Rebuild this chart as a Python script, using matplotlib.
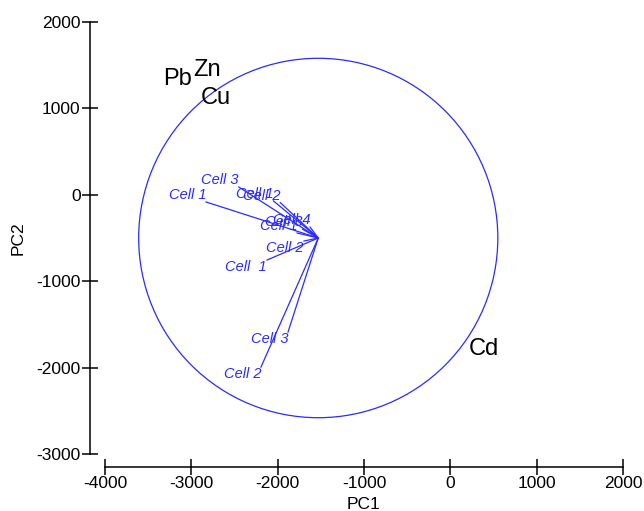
import matplotlib
matplotlib.use("Agg")
import matplotlib.pyplot as plt
from matplotlib.patches import Circle
import numpy as np

plt.rcParams['font.family'] = ['Liberation Sans', 'DejaVu Sans']
plt.rcParams['axes.unicode_minus'] = False

# Biplot origin and correlation circle
origin = (-1530, -500)
circle_radius = 2080

# Observation vectors (endpoints) and labels
cell_labels = ['Cell 1', 'Cell 3', 'Cell 1', 'Cell 2', 'Cell 4', 'Cell 3',
               'Cell 1', 'Cell 2', 'Cell  1', 'Cell 3', 'Cell 2']
cell_x = [-2830, -2450, -2050, -1970, -1625, -1710, -1776, -1695, -2123, -1880, -2193]
cell_y = [-83, 90, -70, -90, -373, -400, -442, -535, -755, -1588, -1993]

# Variable labels
var_labels = ['Pb', 'Zn', 'Cu', 'Cd']
var_x = [-3166, -2818, -2714, 390]
var_y = [1340, 1444, 1120, -1785]

xticks = [-4000, -3000, -2000, -1000, 0, 1000, 2000]
yticks = [-3000, -2000, -1000, 0, 1000, 2000]

fig = plt.figure(figsize=(6.44, 5.11), dpi=100)
ax = fig.add_axes([105/644, 57/511, 518/644, 432/511])
ax.set_xlim(-4000, 2000)
ax.set_ylim(-3000, 2000)

blue = '#2b2bff'
ax.add_patch(Circle(origin, circle_radius, fill=False, edgecolor=blue, lw=0.9))

for lab, x, y in zip(cell_labels, cell_x, cell_y):
    ax.plot([origin[0], x], [origin[1], y], color=blue, lw=0.9)
    va = 'bottom' if y > origin[1] else 'top'
    ax.text(x, y, lab, color=blue, fontsize=10.5, fontstyle='italic',
            ha='right', va=va)

for lab, x, y in zip(var_labels, var_x, var_y):
    ax.text(x, y, lab, color='black', fontsize=17, ha='center', va='center')

for s in ['top', 'right']:
    ax.spines[s].set_visible(False)
ax.spines['left'].set_position(('outward', 11))
ax.spines['bottom'].set_position(('outward', 9))
ax.spines['left'].set_bounds(-3000, 2000)
ax.spines['bottom'].set_bounds(-4000, 2000)
for s in ['left', 'bottom']:
    ax.spines[s].set_linewidth(1.1)

ax.set_xticks(xticks)
ax.set_yticks(yticks)
ax.tick_params(direction='inout', length=11, width=1.1, labelsize=12.5, pad=1)
ax.set_xlabel('PC1', fontsize=12.5, labelpad=5)
ax.set_ylabel('PC2', fontsize=12.5, labelpad=8)

fig.savefig('out.png', dpi=100)
